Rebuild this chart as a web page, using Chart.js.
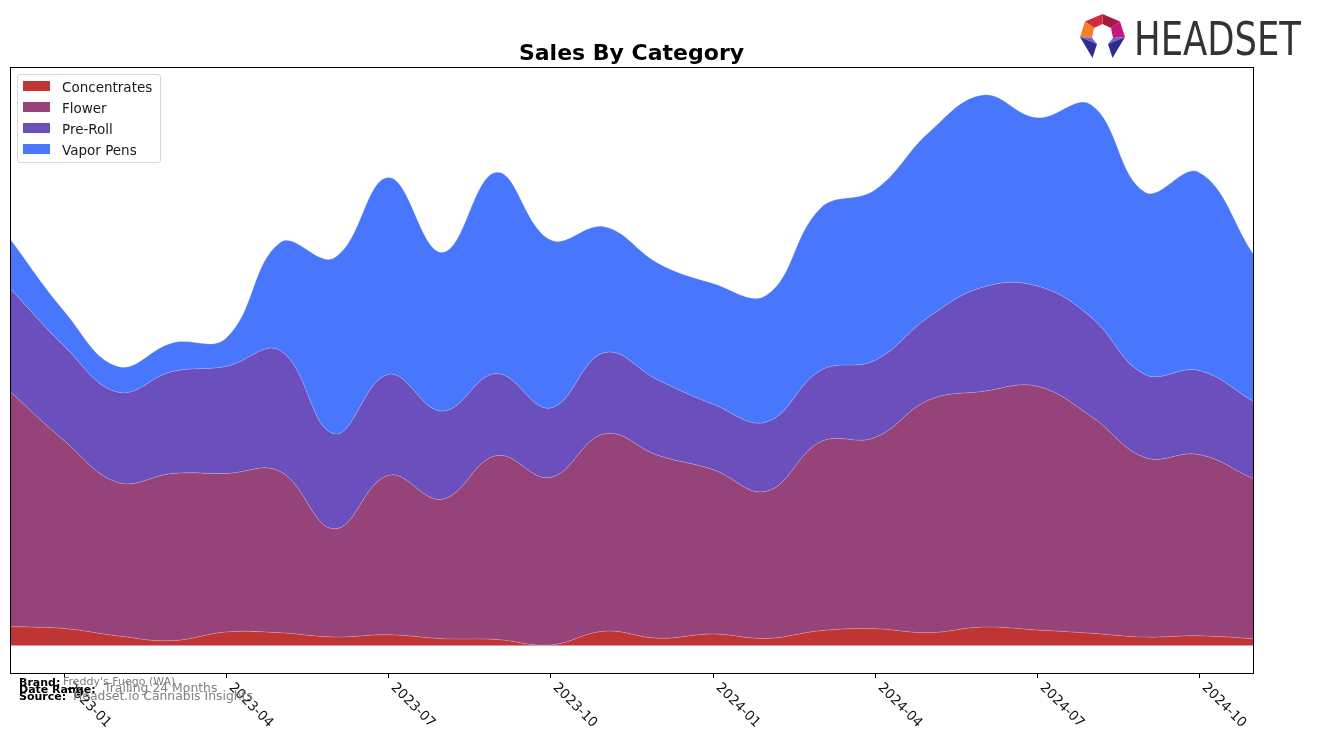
<!DOCTYPE html>
<html lang="en">
<head>
    <meta charset="UTF-8">
    <title>Sales By Category</title>
    <script src="https://cdn.jsdelivr.net/npm/chart.js"></script>
    <style>
        * {
            box-sizing: border-box;
            margin: 0;
            padding: 0;
        }

        body {
            background: #fff;
            font-family: 'DejaVu Sans', sans-serif;
            overflow: hidden;
        }

        .page {
            position: relative;
            width: 1317px;
            height: 743px;
        }

        #salesChart {
            position: absolute;
            left: 0;
            top: 0;
        }

        .title {
            position: absolute;
            left: 0;
            top: 42px;
            width: 1263px;
            text-align: center;
            font-size: 22px;
            line-height: 22px;
            font-weight: bold;
            color: #000;
        }

        .legend-box {
            position: absolute;
            left: 17px;
            top: 74px;
            width: 144px;
            height: 89px;
            border: 1px solid #d6d6d6;
            border-radius: 3px;
            background: rgba(255, 255, 255, 0.8);
        }

        .legend-swatch {
            position: absolute;
            left: 23px;
            width: 27px;
            height: 10px;
        }

        .legend-text {
            position: absolute;
            left: 62px;
            font-size: 13.5px;
            line-height: 16px;
            color: #1a1a1a;
            white-space: nowrap;
        }

        .logo-icon {
            position: absolute;
            left: 1080px;
            top: 14px;
        }

        .logo-text {
            position: absolute;
            left: 1134px;
            top: 15px;
            font-family: 'Liberation Sans Narrow', 'DejaVu Sans Condensed', 'Liberation Sans', sans-serif;
            font-size: 47px;
            line-height: 47px;
            color: #333;
            white-space: nowrap;
            transform-origin: 0 0;
        }

        .foot {
            position: absolute;
            white-space: nowrap;
        }

        .foot-label {
            font-size: 11px;
            line-height: 11px;
            font-weight: bold;
            color: #000;
        }

        .foot-value {
            font-size: 12.4px;
            line-height: 12px;
            color: #808080;
        }
    </style>
</head>
<body>
    <div class="page">
        <canvas id="salesChart" width="1317" height="743"></canvas>

        <div class="title">Sales By Category</div>

        <div class="legend-box"></div>
        <div id="legend"></div>

        <svg class="logo-icon" width="46" height="45" viewBox="0 0 46 45">
            <polygon points="22.5,0 5,7.5 14,14 22.5,10" fill="#d42a3c"/>
            <polygon points="22.5,0 40,7.5 31,14 22.5,10" fill="#a51a3d"/>
            <polygon points="5,7.5 0,23 12,24 14,14" fill="#f4812a"/>
            <polygon points="40,7.5 45,23 33,24 31,14" fill="#c4177f"/>
            <polygon points="0,23 12,24 17,30" fill="#6a64d8"/>
            <polygon points="0,23 17,30 12.5,44" fill="#2f2c8e"/>
            <polygon points="45,23 33,24 28,30" fill="#6a64d8"/>
            <polygon points="45,23 28,30 32.5,44" fill="#2f2c8e"/>
        </svg>
        <div class="logo-text" id="logoText">HEADSET</div>

        <div class="foot foot-label" style="left:19px; top:677px;">Brand:</div>
        <div class="foot foot-value" style="left:63px; top:676px; font-size:11px;">Freddy's Fuego (WA)</div>
        <div class="foot foot-label" style="left:19px; top:684px;">Date Range:</div>
        <div class="foot foot-value" style="left:104px; top:682px;">Trailing 24 Months</div>
        <div class="foot foot-label" style="left:19px; top:691px;">Source:</div>
        <div class="foot foot-value" style="left:73px; top:690px;">Headset.io Cannabis Insights</div>
    </div>

    <script>
        // monthly points, Dec 2022 .. Nov 2024
        const months = [
            '2022-12', '2023-01', '2023-02', '2023-03', '2023-04', '2023-05',
            '2023-06', '2023-07', '2023-08', '2023-09', '2023-10', '2023-11',
            '2023-12', '2024-01', '2024-02', '2024-03', '2024-04', '2024-05',
            '2024-06', '2024-07', '2024-08', '2024-09', '2024-10', '2024-11'
        ];
        const tickLabels = ['2023-01', '2023-04', '2023-07', '2023-10', '2024-01', '2024-04', '2024-07', '2024-10'];

        const categories = ['Concentrates', 'Flower', 'Pre-Roll', 'Vapor Pens'];
        const colors = ['#c13434', '#964379', '#6a4fbd', '#4877fe'];

        // values (y axis has no scale, arbitrary units)
        const concentrates = [18.7, 17, 9.5, 4.8, 13.5, 12.7, 8.4, 10.7, 6.8, 6, 0.5, 14.3,
                              7.2, 11.5, 7, 14.7, 16.7, 12.7, 18.3, 15.5, 12.3, 8.4, 9.6, 6.8];
        const flower = [234.9, 187.6, 153.2, 166.9, 158.2, 161, 108, 159.1, 139.2, 183.6, 167.3, 197,
                        182.4, 164.2, 147, 188.7, 190.7, 232.3, 235.3, 243.3, 216.7, 179.2, 181.1, 159.8];
        const preRoll = [102.9, 94.4, 90.1, 101.7, 106.9, 120.7, 94.9, 100.8, 87.9, 81.8, 69.2, 81.1,
                         75.1, 65.3, 69.2, 71.2, 77.1, 83, 104.1, 100.2, 99, 83, 83.9, 77.4];
        const vaporPens = [49.5, 35, 25.8, 28.6, 28.4, 108, 175.7, 196.6, 158.6, 201, 168, 125.6,
                           116.7, 120.6, 126.6, 162.2, 170.1, 184, 191.8, 168, 212, 182, 197.8, 147.3];

        const series = [concentrates, flower, preRoll, vaporPens];

        // legend inside the plot, top left
        const legend = document.getElementById('legend');
        categories.forEach((name, k) => {
            const sw = document.createElement('div');
            sw.className = 'legend-swatch';
            sw.style.top = (81 + 21 * k) + 'px';
            sw.style.background = colors[k];
            legend.appendChild(sw);
            const tx = document.createElement('div');
            tx.className = 'legend-text';
            tx.style.top = (79 + 21 * k) + 'px';
            tx.textContent = name;
            legend.appendChild(tx);
        });

        // squeeze logo text to its width in the picture
        const logo = document.getElementById('logoText');
        const lw = logo.getBoundingClientRect().width;
        logo.style.transform = 'scaleX(' + (167 / lw) + ')';

        // frame, tick marks and rotated month labels
        const axisFrame = {
            id: 'axisFrame',
            afterDraw(chart) {
                const { ctx, chartArea: a, scales: { x } } = chart;
                ctx.save();
                ctx.strokeStyle = '#000';
                ctx.lineWidth = 1;
                ctx.strokeRect(a.left + 0.5, a.top + 0.5, a.right - a.left, a.bottom - a.top);
                ctx.font = '13.5px "DejaVu Sans"';
                ctx.fillStyle = '#111';
                ctx.textAlign = 'left';
                ctx.textBaseline = 'alphabetic';
                tickLabels.forEach(lbl => {
                    const px = Math.round(x.getPixelForValue(months.indexOf(lbl))) + 0.5;
                    ctx.beginPath();
                    ctx.moveTo(px, a.bottom);
                    ctx.lineTo(px, a.bottom + 5);
                    ctx.stroke();
                    ctx.save();
                    ctx.translate(px + 2, a.bottom + 15);
                    ctx.rotate(Math.PI / 4);
                    ctx.fillText(lbl, 0, 0);
                    ctx.restore();
                });
                ctx.restore();
            }
        };

        new Chart(document.getElementById('salesChart'), {
            type: 'line',
            data: {
                labels: months,
                datasets: categories.map((name, k) => ({
                    label: name,
                    data: series[k],
                    backgroundColor: colors[k],
                    borderColor: 'rgba(255,255,255,0.22)',
                    borderWidth: 1,
                    fill: k === 0 ? 'origin' : '-1',
                    pointRadius: 0,
                    tension: 0.4
                }))
            },
            options: {
                responsive: false,
                animation: false,
                layout: {
                    padding: { left: 10, right: 64, top: 67, bottom: 70 }
                },
                plugins: {
                    legend: { display: false },
                    tooltip: { enabled: false },
                    title: { display: false }
                },
                scales: {
                    x: { display: false },
                    y: { display: false, stacked: true, min: -27.5, max: 577.5 }
                }
            },
            plugins: [axisFrame]
        });
    </script>
</body>
</html>
